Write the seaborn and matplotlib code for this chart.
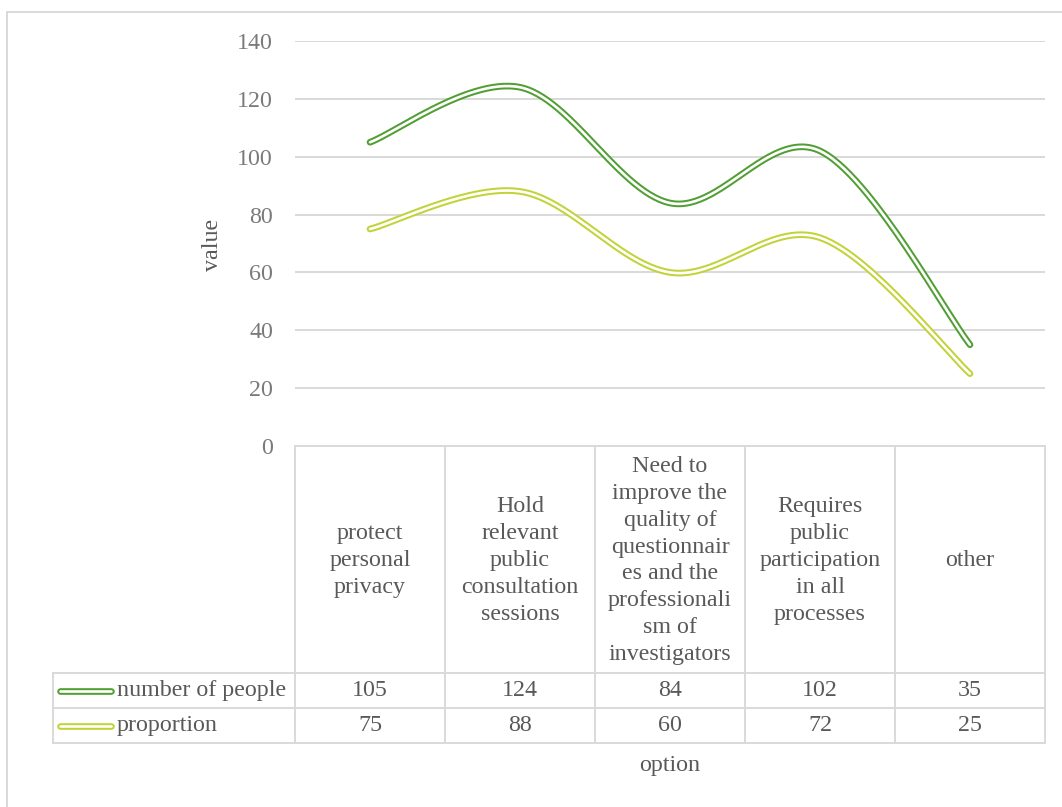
import numpy as np
import pandas as pd
import matplotlib
matplotlib.use("Agg")
import matplotlib.pyplot as plt
import seaborn as sns

# ---- data ----
categories = ["protect personal privacy",
              "Hold relevant public consultation sessions",
              "Need to improve the quality of questionnaires and the professionalism of investigators",
              "Requires public participation in all processes",
              "other"]
category_labels = ["protect\npersonal\nprivacy",
                   "Hold\nrelevant\npublic\nconsultation\nsessions",
                   "Need to\nimprove the\nquality of\nquestionnair\nes and the\nprofessionali\nsm of\ninvestigators",
                   "Requires\npublic\nparticipation\nin all\nprocesses",
                   "other"]
series_names = ["number of people", "proportion"]
number_of_people = [105, 124, 84, 102, 35]
proportion = [75, 88, 60, 72, 25]
y_ticks = [0, 20, 40, 60, 80, 100, 120, 140]

series_values = [number_of_people, proportion]
series_colors = ["#519F34", "#C2D33A"]

sns.set_theme(style="white")
plt.rcParams["font.family"] = ["Liberation Serif", "DejaVu Serif"]

W, H = 1062, 807
fig = plt.figure(figsize=(W / 100, H / 100), dpi=100)
FS = 17.3
TXT = "#595959"
GRID = "#D9D9D9"
LW_OUT, LW_IN = 4.8, 1.9

# background / overlay axes in pixel coordinates
bg = fig.add_axes([0, 0, 1, 1], zorder=0)
bg.set_xlim(0, W)
bg.set_ylim(H, 0)
bg.axis("off")

# plot area
L, R, T, B = 295, 1045, 41, 446
ax = fig.add_axes([L / W, 1 - B / H, (R - L) / W, (B - T) / H], zorder=2)
ax.patch.set_alpha(0)
ax.set_xlim(-0.5, 4.5)
ax.set_ylim(0, 140)
ax.set_yticks(y_ticks)
ax.set_yticklabels([str(v) for v in y_ticks], fontsize=FS, color="#7A7A7A")
ax.set_xticks([])
ax.tick_params(axis="y", length=0, pad=15.8)
for s in ax.spines.values():
    s.set_visible(False)
ax.grid(False)
for v in y_ticks[1:]:
    ax.axhline(v, color=GRID, lw=1.4, zorder=0)


def smooth(xs, ys, n=60):
    P = np.column_stack([xs, ys]).astype(float)
    out = []
    m = len(P)
    for i in range(m - 1):
        p0 = P[i - 1] if i > 0 else P[i]
        p1 = P[i]
        p2 = P[i + 1]
        p3 = P[i + 2] if i + 2 < m else P[i + 1]
        c1 = p1 + (p2 - p0) / 6.0
        c2 = p2 - (p3 - p1) / 6.0
        t = np.linspace(0, 1, n)[:, None]
        seg = ((1 - t) ** 3) * p1 + 3 * ((1 - t) ** 2) * t * c1 + 3 * (1 - t) * t ** 2 * c2 + t ** 3 * p2
        out.append(seg if i == 0 else seg[1:])
    return np.vstack(out)


xpos = np.arange(len(categories))
for vals, col in zip(series_values, series_colors):
    curve = smooth(xpos, vals)
    df = pd.DataFrame({"x": curve[:, 0], "y": curve[:, 1]})
    sns.lineplot(data=df, x="x", y="y", sort=False, estimator=None, ax=ax,
                 color=col, lw=LW_OUT, solid_capstyle="round", zorder=3)
    sns.lineplot(data=df, x="x", y="y", sort=False, estimator=None, ax=ax,
                 color="white", lw=LW_IN, solid_capstyle="round", zorder=4)
ax.set_xlabel("")
ax.set_ylabel("")

# axis titles
bg.text(213, 245, "value", rotation=90, ha="center", va="center", fontsize=FS, color=TXT)
bg.text(670, 766, "option", ha="center", va="center", fontsize=FS, color=TXT)

# outer chart frame
bg.plot([7, W], [12, 12], color=GRID, lw=1.4)
bg.plot([7, 7], [12, H], color=GRID, lw=1.4)

# data table
col_edges = [295, 445, 595, 745, 895, 1045]
row_cat_top, row1_top, row2_top, tbl_bot = 446, 673, 708, 743
leg_left = 53
bg.plot([295, 1045], [row_cat_top, row_cat_top], color=GRID, lw=1.4)
for y in (row1_top, row2_top, tbl_bot):
    bg.plot([leg_left, 1045], [y, y], color=GRID, lw=1.4)
for x in col_edges:
    bg.plot([x, x], [row_cat_top, tbl_bot], color=GRID, lw=1.4)
bg.plot([leg_left, leg_left], [row1_top, tbl_bot], color=GRID, lw=1.4)

centers = [(a + b) / 2 for a, b in zip(col_edges[:-1], col_edges[1:])]
for cx, lab in zip(centers, category_labels):
    bg.text(cx, (row_cat_top + row1_top) / 2 + 1, lab, ha="center", va="center",
            fontsize=FS, color=TXT, linespacing=1.36, multialignment="center")

for (ytop, ybot), name, vals, col in zip([(row1_top, row2_top), (row2_top, tbl_bot)],
                                         series_names, series_values, series_colors):
    yc = (ytop + ybot) / 2
    bg.plot([60, 111], [yc, yc], color=col, lw=LW_OUT, solid_capstyle="round")
    bg.plot([60, 111], [yc, yc], color="white", lw=LW_IN, solid_capstyle="round")
    bg.text(117, yc, name, ha="left", va="center", fontsize=FS, color=TXT)
    for cx, v in zip(centers, vals):
        bg.text(cx, yc, str(v), ha="center", va="center", fontsize=FS, color=TXT)

fig.savefig("out.png", dpi=100, facecolor="white")
